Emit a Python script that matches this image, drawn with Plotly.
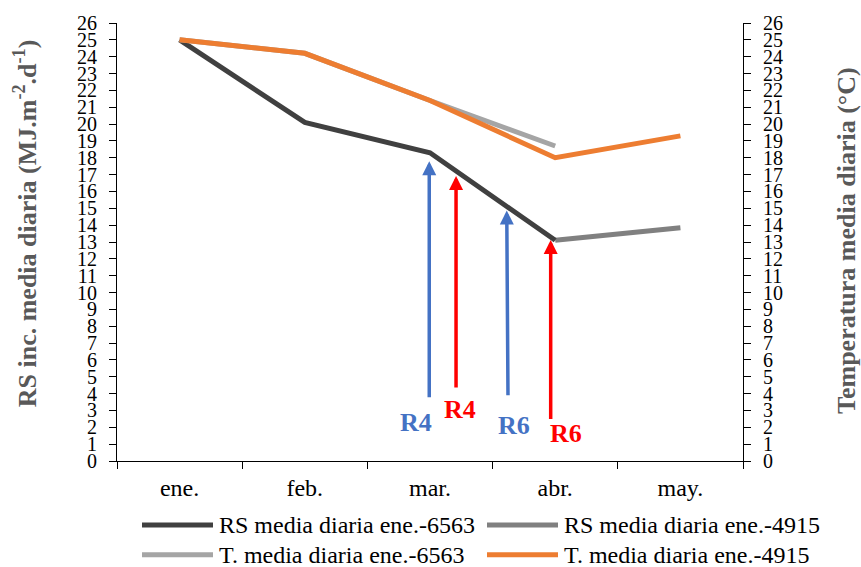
import plotly.graph_objects as go

# ---------------- data ----------------
months = ["ene.", "feb.", "mar.", "abr.", "may."]
rs_6563 = [25.0, 20.1, 18.3, 13.1, None]
rs_4915 = [None, None, None, 13.1, 13.85]
t_6563 = [25.0, 24.2, 21.4, 18.7, None]
t_4915 = [25.0, 24.2, 21.4, 18.0, 19.3]
y_ticks = list(range(0, 27))

names = {
    "rs_6563": "RS media diaria ene.-6563",
    "rs_4915": "RS media diaria ene.-4915",
    "t_6563": "T. media diaria ene.-6563",
    "t_4915": "T. media diaria ene.-4915",
}
colors = {
    "rs_6563": "#404040",
    "rs_4915": "#808080",
    "t_6563": "#A5A5A5",
    "t_4915": "#ED7D31",
}

W, H = 861, 567
ML, MR, MT, MB = 117, 118, 17, 106
PW, PH = W - ML - MR, H - MT - MB
FONT = '"Liberation Serif", "Times New Roman", serif'


def px(x):
    return (x - ML) / PW


def py(y):
    return (H - MB - y) / PH


fig = go.Figure()
series = [("t_6563", t_6563, "y2"), ("t_4915", t_4915, "y2"),
          ("rs_4915", rs_4915, "y"), ("rs_6563", rs_6563, "y")]
for key, vals, ax in series:
    fig.add_trace(go.Scatter(x=months, y=vals, name=names[key], mode="lines",
                             line=dict(color=colors[key], width=5),
                             yaxis=ax, showlegend=False, connectgaps=False))

axis_common = dict(range=[0, 26], tickmode="array", tickvals=y_ticks,
                   ticktext=[str(v) for v in y_ticks], showgrid=False,
                   zeroline=False, showline=True, linecolor="#000000", linewidth=1,
                   ticks="outside", ticklen=7, tickcolor="#000000",
                   ticklabelstandoff=8,
                   tickfont=dict(family=FONT, size=20, color="#000000"))

fig.update_layout(
    width=W, height=H,
    margin=dict(l=ML, r=MR, t=MT, b=MB),
    paper_bgcolor="white", plot_bgcolor="white",
    showlegend=False,
    xaxis=dict(type="category", range=[-0.5, 4.5], tickson="boundaries",
               showgrid=False, zeroline=False, showline=True, linecolor="#000000",
               linewidth=1, ticks="outside", ticklen=7, tickcolor="#000000",
               ticklabelstandoff=5,
               tickfont=dict(family=FONT, size=24, color="#000000")),
    yaxis=dict(**axis_common, side="left"),
    yaxis2=dict(**axis_common, side="right", overlaying="y"),
)

# axis titles
fig.add_annotation(xref="paper", yref="paper", x=px(25), y=py(220),
                   text="<b>RS inc. media diaria (MJ.m<sup>-2</sup>.d<sup>-1</sup>)</b>",
                   textangle=-90, showarrow=False, xanchor="center", yanchor="middle",
                   font=dict(family=FONT, size=26, color="#595959"))
fig.add_annotation(xref="paper", yref="paper", x=px(846), y=py(238),
                   text="<b>Temperatura media diaria (°C)</b>",
                   textangle=-90, showarrow=False, xanchor="center", yanchor="middle",
                   font=dict(family=FONT, size=26, color="#595959"))

# arrows (tail -> tip) in data coordinates
BLUE, RED = "#4472C4", "#FF0000"
arrows = [
    (1.994, 3.69, 1.994, 17.80, BLUE),
    (2.208, 4.27, 2.208, 16.92, RED),
    (2.623, 3.81, 2.613, 14.87, BLUE),
    (2.964, 2.40, 2.964, 13.12, RED),
]
for tx, ty, hx, hy, c in arrows:
    fig.add_annotation(x=hx, y=hy, ax=tx, ay=ty, xref="x", yref="y",
                       axref="x", ayref="y", text="", showarrow=True,
                       arrowhead=2, arrowsize=0.8, arrowwidth=3.5, arrowcolor=c,
                       standoff=0, startstandoff=0)

labels = [
    ("R4", 1.89, 2.28, BLUE),
    ("R4", 2.24, 3.05, RED),
    ("R6", 2.67, 2.11, BLUE),
    ("R6", 3.09, 1.64, RED),
]
for t, x, y, c in labels:
    fig.add_annotation(x=x, y=y, xref="x", yref="y", text="<b>%s</b>" % t,
                       showarrow=False, xanchor="center", yanchor="middle",
                       font=dict(family=FONT, size=26, color=c))

# custom legend
legend_items = [
    ("rs_6563", 142, 213, 526),
    ("rs_4915", 487, 558, 526),
    ("t_6563", 142, 213, 556),
    ("t_4915", 487, 558, 556),
]
for key, x0, x1, yy in legend_items:
    fig.add_shape(type="line", xref="paper", yref="paper",
                  x0=px(x0), x1=px(x1), y0=py(yy), y1=py(yy),
                  line=dict(color=colors[key], width=5))
    fig.add_annotation(xref="paper", yref="paper", x=px(x1 + 4), y=py(yy),
                       text=names[key], showarrow=False, xanchor="left",
                       yanchor="middle",
                       font=dict(family=FONT, size=24, color="#000000"))

fig.write_html("out.html", config={"displayModeBar": False},
               post_script="document.body.style.margin='0';")
